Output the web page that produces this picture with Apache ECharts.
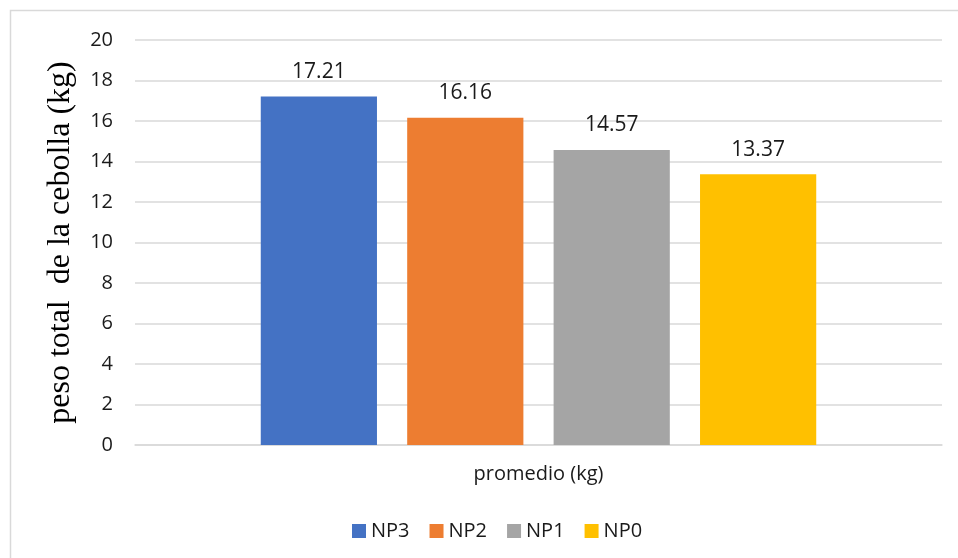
<!DOCTYPE html>
<html><head><meta charset="utf-8">
<script src="https://cdn.jsdelivr.net/npm/echarts@6/dist/echarts.min.js"></script>
<style>html,body{margin:0;padding:0;background:#fff}#c{width:958px;height:558px}</style>
</head><body><div id="c"></div>
<script>
const categories = ['promedio (kg)'];
const seriesNames = ['NP3', 'NP2', 'NP1', 'NP0'];
const seriesValues = [[17.21], [16.16], [14.57], [13.37]];
const seriesColors = ['#4472C4', '#ED7D31', '#A5A5A5', '#FFC000'];
const yTicks = [0, 2, 4, 6, 8, 10, 12, 14, 16, 18, 20];

const chart = echarts.init(document.getElementById('c'));
const font = '"Open Sans", "Liberation Sans", sans-serif';
chart.setOption({
  animation: false,
  textStyle: { fontFamily: font },
  graphic: [{
    type: 'rect', shape: { x: 10.5, y: 10.5, width: 1000, height: 1000 },
    style: { fill: 'none', stroke: '#D9D9D9', lineWidth: 1.5 }, silent: true
  }],
  grid: { left: 135, right: 16, top: 40, bottom: 113, containLabel: false },
  legend: {
    top: 516, left: 347, itemWidth: 14, itemHeight: 14, itemGap: 20,
    icon: 'rect',
    textStyle: { fontSize: 20, color: '#1a1a1a', fontFamily: font },
    data: seriesNames
  },
  xAxis: {
    type: 'category', data: categories,
    axisLine: { lineStyle: { color: '#D9D9D9', width: 1.5 } },
    axisTick: { show: false },
    axisLabel: { fontSize: 20, color: '#1a1a1a', margin: 19, fontFamily: font }
  },
  yAxis: {
    type: 'value', min: yTicks[0], max: yTicks[yTicks.length - 1], interval: 2,
    name: 'peso total  de la cebolla (kg)', nameLocation: 'middle', nameGap: 58,
    nameTextStyle: { fontFamily: '"Liberation Serif", "DejaVu Serif", serif', fontSize: 32, color: '#000' },
    axisLine: { show: false }, axisTick: { show: false },
    axisLabel: { fontSize: 20, color: '#1a1a1a', margin: 22, fontFamily: font },
    splitLine: { lineStyle: { color: '#D9D9D9', width: 1.5 } }
  },
  series: seriesNames.map((n, i) => ({
    name: n, type: 'bar', data: seriesValues[i],
    barWidth: '14.4%', barGap: '26%',
    itemStyle: { color: seriesColors[i] },
    label: { show: true, position: 'top', distance: 14, fontSize: 21, color: '#1a1a1a',
      fontFamily: font, formatter: p => p.value.toFixed(2) }
  }))
});
</script></body></html>
